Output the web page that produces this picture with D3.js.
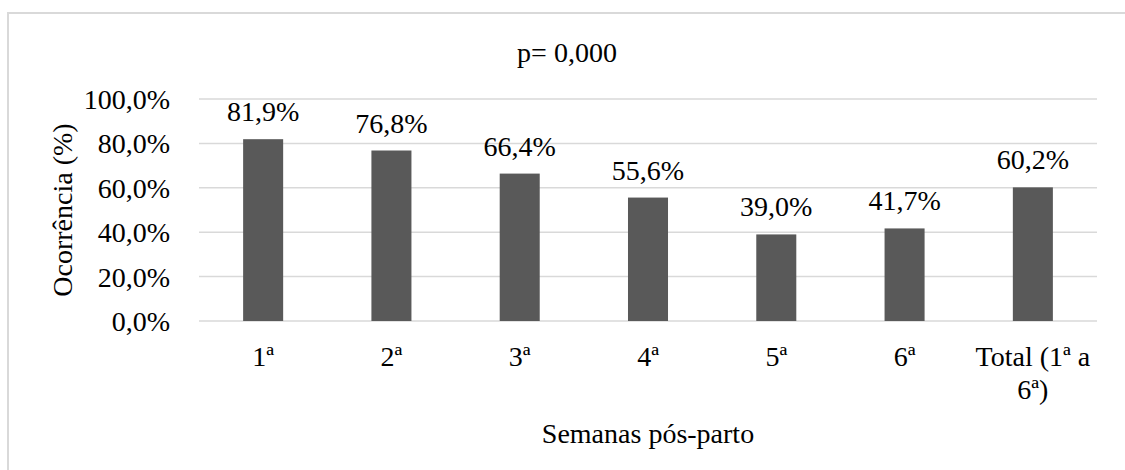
<!DOCTYPE html>
<html>
<head>
<meta charset="utf-8">
<script src="https://cdn.jsdelivr.net/npm/d3@7"></script>
<style>
  html, body { margin: 0; padding: 0; background: #fff; }
</style>
</head>
<body>
<svg id="chart" width="1125" height="470"></svg>
<script>
const categories = ["1ª", "2ª", "3ª", "4ª", "5ª", "6ª", "Total (1ª a 6ª)"];
const categoryLines = [["1ª"], ["2ª"], ["3ª"], ["4ª"], ["5ª"], ["6ª"], ["Total (1ª a", "6ª)"]];
const values = [81.9, 76.8, 66.4, 55.6, 39.0, 41.7, 60.2];
const yTicks = [0, 20, 40, 60, 80, 100];
const titleText = "p= 0,000";
const xAxisTitle = "Semanas pós-parto";
const yAxisTitle = "Ocorrência (%)";

const FONT = '"Liberation Serif"';
const svg = d3.select("#chart");
const fs = 28;
const plot = { left: 199, right: 1097, top: 99, bottom: 321 };

const locale = d3.formatLocale({ decimal: ",", thousands: ".", grouping: [3], currency: ["", ""] });
const fmt = v => locale.format(".1f")(v) + "%";

const x = d3.scaleBand().domain(categories).range([plot.left, plot.right]).padding(0);
const y = d3.scaleLinear().domain([0, 100]).range([plot.bottom, plot.top]);
const barW = x.bandwidth() * 0.312;

function txt(sel) {
  return sel.style("font-family", FONT).attr("font-size", fs).attr("fill", "#000");
}

// outer border
svg.append("rect").attr("x", 8).attr("y", 13).attr("width", 1130).attr("height", 470)
  .attr("fill", "none").attr("stroke", "#d9d9d9").attr("stroke-width", 2);

// gridlines
svg.append("g").selectAll("line").data(yTicks).join("line")
  .attr("x1", plot.left).attr("x2", plot.right)
  .attr("y1", d => y(d)).attr("y2", d => y(d))
  .attr("stroke", "#d9d9d9").attr("stroke-width", 1.5);

// y tick labels
txt(svg.append("g").selectAll("text").data(yTicks).join("text")
  .attr("x", 170).attr("y", d => y(d) + 10)
  .attr("text-anchor", "end"))
  .text(d => fmt(d));

// bars
svg.append("g").selectAll("rect").data(values).join("rect")
  .attr("x", (d, i) => x(categories[i]) + x.bandwidth() / 2 - barW / 2)
  .attr("y", d => y(d))
  .attr("width", barW)
  .attr("height", d => y(0) - y(d))
  .attr("fill", "#595959");

// bar labels
txt(svg.append("g").selectAll("text").data(values).join("text")
  .attr("x", (d, i) => x(categories[i]) + x.bandwidth() / 2)
  .attr("y", d => y(d) - 18)
  .attr("text-anchor", "middle"))
  .text(d => fmt(d));

// x tick labels
const xt = txt(svg.append("g").selectAll("text").data(categories).join("text")
  .attr("x", d => x(d) + x.bandwidth() / 2)
  .attr("y", 366)
  .attr("text-anchor", "middle"));
xt.each(function(d, i) {
  const t = d3.select(this);
  categoryLines[i].forEach((ln, j) => {
    t.append("tspan").attr("x", x(d) + x.bandwidth() / 2).attr("dy", j === 0 ? 0 : 33).text(ln);
  });
});

// title
txt(svg.append("text").attr("x", 567).attr("y", 62).attr("text-anchor", "middle")).text(titleText);

// x axis title
txt(svg.append("text").attr("x", (plot.left + plot.right) / 2).attr("y", 443)
  .attr("text-anchor", "middle")).text(xAxisTitle);

// y axis title
txt(svg.append("text")
  .attr("transform", `translate(72, ${(plot.top + plot.bottom) / 2}) rotate(-90)`)
  .attr("text-anchor", "middle")).text(yAxisTitle);
</script>
</body>
</html>
